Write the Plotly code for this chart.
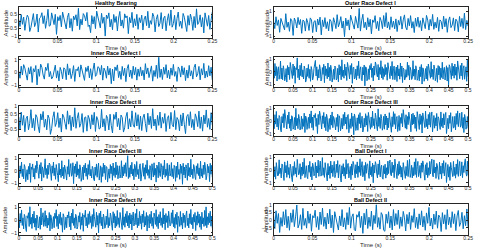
import numpy as np
import plotly.graph_objects as go

# ---------------- data: amplitude samples, written in units of 0.01 ----------------
healthy_bearing = [
 12,-35,48,-20,31,-62,5,44,28,-70,-41,18,55,-36,-10,52,-74,22,30,61,
 -15,40,-48,8,85,-33,-27,60,14,-22,50,-90,33,5,42,-37,66,26,-10,-52,
 29,58,-44,20,-68,38,12,47,-31,92,-57,16,-24,55,40,3,63,-35,-25,-78,
 41,-18,34,-50,72,27,-9,-45,57,-13,30,-102,45,21,60,-38,15,-58,49,-7,
 35,-66,24,70,-32,11,-47,53,25,39,-85,28,-10,64,-42,19,-30,50,-55,26,
 -8,44,-60,17,38,-29,71,-46,6,-20,58,33,-73,14,47,-36,-12,62,-51,23,
 37,-65,9,54,-28,80,-40,-15,43,-57,21,66,-34,2,-48,56,30,-19,-70,41,
 -26,52,15,-62,35,-44,88,-21,-5,46,-38,27,-80,60,18,-33,42,-55,11,67]

inner_race_1 = [
 10,-45,50,-20,62,35,-15,-60,38,-12,47,-78,30,5,55,-98,28,-30,66,40,
 -20,-52,42,16,72,-33,8,-50,-35,22,58,-44,14,-66,40,10,-50,37,25,-57,
 68,-20,32,-48,-10,54,-70,26,14,45,-36,60,25,-18,-62,40,8,52,-42,30,
 -55,22,75,-30,-16,46,38,-18,56,-60,35,12,-45,50,-20,33,-88,27,-66,44,
 15,60,-40,10,-54,48,-24,34,-72,30,62,-35,20,-47,50,-20,40,-60,28,-30,
 44,-26,18,-58,70,-12,36,-40,24,52,-68,16,-32,58,-46,120,-38,27,-55,42,
 -14,62,-42,18,-50,36,-22,64,-30,8,-70,44,26,-36,52,-18,38,-64,20,-44,
 56,-28,14,-52,40,66,-34,-10,48,-58,30,-20,72,-44,12,-36,54,-26,42,-60]

inner_race_2 = [
 30,-50,62,-25,40,-68,18,35,-55,-12,78,-42,20,-60,45,28,-35,-75,50,10,
 66,-38,15,-55,42,20,-85,-47,26,64,-33,-8,58,-40,22,-70,48,30,-12,-52,
 70,-18,40,-60,30,-35,90,-45,20,58,-38,-15,52,-72,25,30,-64,40,16,-50,
 44,-22,60,-66,32,10,-50,-44,80,-36,18,-62,40,20,-56,48,-28,-76,46,14,
 62,-34,20,-56,42,26,-70,-42,30,60,-50,18,-36,70,-24,-38,58,-30,45,-52,
 36,-60,24,48,-14,-70,55,-22,34,-46,84,-30,16,-58,40,-26,62,-44,28,-12,
 52,-66,18,38,-48,60,-20,-36,72,-54,26,10,-62,44,-30,56,-18,-80,34,46,
 -28,64,-40,14,-56,50,22,-34,68,-46,30,-64,42,-16,76,-38,20,-52,58,-24]

inner_race_3 = [
 25,-55,40,-20,70,-45,15,-62,50,30,-85,-40,10,-70,35,-25,60,-90,30,12,
 55,-48,20,-65,42,-15,78,36,-26,-58,48,-22,66,-80,32,10,-52,44,95,-30,
 18,-60,45,-28,62,50,-12,-75,40,-18,70,-38,24,-66,50,20,-36,-85,60,-32,
 14,-52,80,-40,28,-62,46,16,-58,-72,34,-26,90,-45,20,58,-42,-30,64,-100,
 38,-20,55,-48,74,-34,16,-60,48,24,-82,-50,30,-70,45,-15,60,-42,22,-66,
 50,-28,82,-40,12,-56,36,20,-66,-78,30,-35,55,-50,20,62,-72,25,40,-90,
 28,-44,60,-18,46,-68,34,30,-88,-50,16,-58,50,-22,38,-74,62,-36,24,-52,
 70,-30,42,-62,18,40,-56,-26,80,-55,32,-40,48,-20,64,-44,30,120,-60,25,
 -50,44,-24,68,-38,16,-70,52,30,-46,74,-28,12,-62,40,56,-80,-34,22,60,
 -42,26,-66,48,-18,84,-36,10,-58,42,30,-72,56,-26,-48,64,-34,20,-88,46,
 32,-54,70,-20,-44,58,28,-64,40,-30,86,-50,14,-36,60,-76,22,48,-40,-24,
 66,-46,18,-60,44,26,-82,38,-52,70,-28,12,-66,54,-20,40,-105,60,-32,30,
 -56,48,20,-74,62,-38,26,-48,92,-30,14,-60,50,34,-44,-68,40,-22,58,-36,
 24,-62,76,-42,18,-54,46,-28,68,30,-70,-40,52,-16,36,-84,60,-26,44,-50]

inner_race_4 = [
 30,-60,52,-20,80,-42,18,-70,45,28,-65,-90,34,15,58,-50,105,-32,22,-66,
 48,-24,70,-55,14,-80,40,30,-62,-46,26,-72,95,-38,20,58,-50,-18,74,-48,
 36,-62,16,-40,60,-85,42,22,-68,-35,28,-60,54,14,82,-50,30,-70,46,-26,
 62,-40,20,-95,50,30,-75,-45,24,-60,40,18,66,-52,32,-78,55,-24,86,-42,
 18,-64,46,30,-70,-50,34,-16,60,-72,26,-40,52,-88,40,22,78,-46,20,-60,
 50,-34,68,-20,30,-66,44,-50,90,28,-16,-56,62,-40,36,-100,54,-26,72,-44,
 24,-70,48,18,-64,-52,32,-36,84,-60,20,-44,56,30,-40,-80,66,-22,50,-62,
 30,-48,76,-34,18,-58,60,26,-42,-74,98,-40,26,-56,50,-20,70,-46,36,-62,
 56,-30,42,-78,22,64,-46,-18,52,-36,88,-60,16,-44,68,-28,34,-72,48,-20,
 74,-54,28,-40,60,-86,36,14,-62,46,-26,70,-48,20,-66,56,30,-34,82,-50,
 26,-68,44,-22,66,-42,18,-58,92,-30,40,-76,52,-18,34,-60,70,24,-46,-38,
 58,-26,80,-52,20,-64,46,-34,62,-96,30,12,-50,68,-40,24,-70,54,-20,40,
 -58,36,72,-44,16,-62,50,-28,84,-36,22,-68,44,-16,60,-82,34,-40,66,-24,
 48,-56,28,-74,62,-30,18,-50,76,-42,104,-60,26,-36,54,-20,70,-48,32,-64]

outer_race_1 = [
 20,-40,55,-15,30,-70,42,10,-25,-50,80,-30,12,-62,40,22,-95,45,18,-35,
 50,-8,33,-78,28,20,-60,40,7,-55,46,30,-72,16,24,-66,37,-12,52,-90,
 30,-25,48,-40,15,-58,34,20,-62,47,10,-40,72,-26,5,56,-36,20,-105,44,
 -18,30,-52,68,28,-9,-44,58,14,-36,122,-60,22,75,-33,12,-50,47,-26,35,
 -82,30,10,64,-40,18,-57,50,22,-40,65,-25,88,-35,14,-48,55,-30,20,-42,
 38,-64,26,-12,58,-44,30,70,-28,-50,42,-18,64,-36,16,-72,44,-22,52,-30,
 24,-58,46,-14,-40,66,28,-52,34,-20,74,-46,12,-34,50,-62,30,18,-44,60,
 -26,40,-70,22,54,-32,-12,46,-56,36,20,-66,58,-24,42,-38,84,-48,26,-20]

outer_race_2 = [
 20,-50,66,-30,42,-72,14,40,-58,-20,85,-55,30,-62,48,16,-70,-45,26,-80,
 50,-24,38,-60,74,35,-12,-52,62,-28,44,-90,32,18,110,-46,22,-64,52,-30,
 68,-40,16,-56,46,22,-80,-62,30,-36,58,-50,20,-74,42,14,-64,-42,28,60,
 90,-32,40,-66,18,-48,56,26,-72,-58,34,-20,60,-85,46,-30,24,-54,70,-40,
 36,-70,52,16,-80,-44,20,-60,46,34,-64,-50,28,-78,56,-24,42,-62,95,-36,
 14,-50,60,-28,38,-68,74,42,-26,-56,50,-20,66,-90,32,38,-56,-46,22,-64,
 48,-30,84,-52,18,40,-62,-70,36,-24,54,-110,40,34,-70,-50,24,-60,50,18,
 66,-44,30,-72,46,-26,78,56,-20,-40,58,-64,34,-20,88,-48,40,-60,26,-36,
 58,-22,34,-66,72,40,-16,-54,44,-30,82,-60,28,46,-62,-18,38,-76,54,-32,
 24,-58,70,-36,46,-84,30,20,-64,-50,18,-42,76,-28,52,-64,36,14,-60,-48,
 88,-34,22,-62,48,26,-66,-52,14,-70,40,-38,58,-96,32,22,-74,-44,26,-56,
 44,-68,62,18,-36,-50,80,-40,20,-60,54,30,-70,-46,28,-82,50,-24,42,-62,
 30,-44,76,-56,18,36,-64,-24,48,-72,34,-102,56,40,-22,-58,68,-30,44,-50,
 62,-26,38,-66,86,42,-20,-54,50,-32,70,-60,26,48,-58,-20,40,-74,92,-38]

outer_race_3 = [
 34,-60,50,-24,76,-46,20,-68,44,30,-62,-85,36,-14,58,-52,90,34,-26,-62,
 46,-20,72,-56,16,-78,42,32,-64,-48,28,-70,100,-36,22,-60,52,20,-70,-46,
 38,-64,18,-42,62,-90,40,24,-66,-34,30,-58,56,-16,80,-52,32,-72,48,28,
 60,-42,22,-98,52,-28,78,46,-26,-62,42,-20,68,-50,34,-76,54,26,-84,-40,
 20,-66,48,-32,72,-52,36,18,-62,-70,28,-42,54,-86,42,24,-76,-48,22,-62,
 52,-36,70,-22,32,-64,46,52,-92,-30,18,-58,64,-42,38,-108,56,28,-74,-46,
 26,-72,50,-20,66,-54,34,38,-86,-62,22,-46,58,-32,42,-82,68,24,-52,-64,
 32,-50,78,-36,20,-60,62,28,-44,-76,96,-42,28,-58,52,22,-72,-48,38,-64,
 56,-30,40,-70,24,-52,66,20,-48,-88,34,-44,74,-26,58,-62,18,36,-82,-50,
 44,-74,28,-18,60,-46,90,34,-22,-56,50,-64,36,-28,70,40,-16,-84,54,-30,
 62,-22,46,-58,32,-80,74,40,-20,-66,56,-26,42,-94,64,34,-28,-52,78,-44,
 18,-62,52,-30,68,-48,36,72,-86,-24,44,-56,26,-38,60,-76,34,20,-50,-66,
 72,-42,24,-54,58,-30,40,68,-98,-46,22,-60,46,-18,66,-84,30,36,-54,-50,
 38,-70,60,-26,80,-44,18,62,-48,-32,70,-56,28,-90,52,22,-64,-40,36,-58]

ball_defect_1 = [
 40,-52,28,-70,60,18,-45,-38,82,-26,16,-60,50,44,-30,-80,66,-20,38,-56,
 74,-34,22,-62,48,14,-58,-90,32,-40,68,-28,20,-54,86,46,-36,-22,52,-70,
 26,-42,64,-30,94,-58,18,36,-50,-66,40,-16,70,-50,28,-76,56,32,-44,-24,
 62,-60,34,-20,80,-48,24,72,-46,-30,100,-40,20,-56,60,26,-38,-84,54,-36,
 30,-64,72,-22,42,-50,16,70,-58,-34,48,-18,76,-60,26,44,-64,-92,36,-28,
 52,-46,22,-66,84,-30,40,54,-60,-20,30,-74,50,-38,70,48,-18,-60,44,-26,
 66,-56,34,-16,90,-42,24,68,-52,-30,38,-82,62,-24,46,50,-20,-64,74,-36,
 28,-50,56,-98,42,-22,68,46,-30,-60,50,-34,80,-52,22,40,-60,-70,36,-28,
 48,-62,20,-38,72,-26,54,80,-34,-44,64,-18,40,-58,88,32,-26,-66,50,-40,
 70,-30,36,-54,24,-76,60,20,-46,-64,30,-42,78,-50,18,86,-56,-28,40,-60,
 22,-44,66,-34,92,-56,28,70,-50,-24,38,-62,58,-16,74,46,-32,-78,44,-36,
 60,-58,20,-40,70,-28,48,88,-36,-52,82,-22,26,-64,54,34,-42,-72,64,-30,
 34,-66,56,-24,76,-44,18,60,-96,-36,46,-54,28,-80,62,20,-40,-50,70,-42,
 24,-62,50,-32,84,-48,30,70,-44,-26,66,-58,36,-18,58,90,-22,-46,72,-38]

ball_defect_2 = [
 30,-55,62,-20,44,-80,18,-40,56,-30,70,-50,26,-66,48,-14,70,-42,22,100,
 -50,-26,36,-60,78,-34,12,-52,60,-20,42,-72,30,16,66,-46,24,-62,54,-28,
 80,-40,20,-58,46,-24,72,-50,34,-80,56,18,-40,-64,28,-36,70,-44,16,-60,
 50,-30,84,-52,22,42,-62,-70,36,20,58,-48,26,-86,46,-30,74,-54,20,-40,
 60,-62,32,-22,102,-46,18,-58,50,34,-66,-72,40,-20,56,-50,28,-64,70,-36,
 44,-28,66,-54,22,-40,58,16,-70,38,-24,52,-60,30,-14,76,-48,20,-56,42,
 -32,62,-44,26,-66,48,-20,84,-38,14,-58,40,-28,60,-52,34,18,-74,50,-24,
 36,-60,70,-30,20,-48,56,-22,42,-68,28,64,-40,-16,52,-56,30,-36,74,-44]

AMPLITUDE_UNIT = 0.01   # the lists above are in hundredths of the amplitude unit

# panel titles, signal durations (s), axis ticks -- left column then right column
titles = ["Healthy Bearing", "Inner Race Defect I", "Inner Race Defect II", "Inner Race Defect III", "Inner Race Defect IV",
          "Outer Race Defect I", "Outer Race Defect II", "Outer Race Defect III", "Ball Defect I", "Ball Defect II"]
signals = [healthy_bearing, inner_race_1, inner_race_2, inner_race_3, inner_race_4,
           outer_race_1, outer_race_2, outer_race_3, ball_defect_1, ball_defect_2]
durations = [0.25, 0.25, 0.25, 0.5, 0.5, 0.25, 0.5, 0.5, 0.5, 0.25]
x_ticks_short = [0, 0.05, 0.1, 0.15, 0.2, 0.25]
x_ticks_long = [0, 0.05, 0.1, 0.15, 0.2, 0.25, 0.3, 0.35, 0.4, 0.45, 0.5]
y_ranges = [[-1.15, 0.98], [-1.15, 1.25], [-0.98, 1.03], [-1.15, 1.25], [-1.15, 1.25],
            [-1.15, 1.3], [-1.2, 1.2], [-1.2, 1.2], [-1.2, 1.2], [-0.95, 1.05]]
y_ticks = [[-1, -0.5, 0, 0.5], [-1, 0, 1], [-0.5, 0, 0.5, 1], [-1, 0, 1], [-1, 0, 1],
           [-1, 0, 1], [-1, 0, 1], [-1, 0, 1], [-1, 0, 1], [-0.5, 0, 0.5, 1]]

W, H = 480, 250
FONT = "Liberation Sans, Arial, Helvetica, sans-serif"
AX_COLOR = "#262626"
LINE_COLOR = "#0072BD"

col_x = [(18, 214), (276, 473)]          # pixel extents of plot boxes
ylabel_x = [5, 269]
row_top = [4.5, 54.5, 104.5, 154.5, 204.5]
box_h = 31

fig = go.Figure()
annotations = []
layout = dict(width=W, height=H, margin=dict(l=0, r=0, t=0, b=0, pad=0),
              paper_bgcolor="white", plot_bgcolor="white", showlegend=False,
              font=dict(family=FONT, color=AX_COLOR, size=5))

for i, (title, sig, dur) in enumerate(zip(titles, signals, durations)):
    col, row = divmod(i, 5)
    k = i + 1
    xa = "x" if k == 1 else f"x{k}"
    ya = "y" if k == 1 else f"y{k}"
    amp = np.asarray(sig, dtype=float) * AMPLITUDE_UNIT
    t = np.linspace(0, dur, len(sig))
    fig.add_trace(go.Scatter(x=t, y=amp, mode="lines", xaxis=xa, yaxis=ya,
                             line=dict(color=LINE_COLOR, width=1.0), hoverinfo="skip"))
    x0, x1 = col_x[col]
    top = row_top[row]
    bot = top + box_h
    xdom = [x0 / W, x1 / W]
    ydom = [1 - bot / H, 1 - top / H]
    common = dict(showline=True, linecolor=AX_COLOR, linewidth=0.6, mirror="ticks",
                  ticks="inside", ticklen=2, tickwidth=0.5, tickcolor=AX_COLOR,
                  showgrid=False, zeroline=False, tickfont=dict(size=5, color=AX_COLOR, family=FONT))
    layout["xaxis" if k == 1 else f"xaxis{k}"] = dict(
        domain=xdom, range=[0, dur], tickvals=x_ticks_short if dur < 0.3 else x_ticks_long,
        anchor=ya, ticklabelstandoff=-2, **common)
    layout["yaxis" if k == 1 else f"yaxis{k}"] = dict(
        domain=ydom, range=y_ranges[i], tickvals=y_ticks[i], anchor=xa,
        ticklabelstandoff=0, **common)
    # panel title
    annotations.append(dict(text=f"<b>{title}</b>", x=(xdom[0] + xdom[1]) / 2, y=ydom[1],
                            xref="paper", yref="paper", xanchor="center", yanchor="bottom",
                            showarrow=False, yshift=-1,
                            font=dict(size=5.5, family=FONT, color="#000000")))
    # x axis label
    annotations.append(dict(text="Time (s)", x=(xdom[0] + xdom[1]) / 2, y=1 - (bot + 10) / H,
                            xref="paper", yref="paper", xanchor="center", yanchor="middle",
                            showarrow=False, font=dict(size=6, family=FONT, color=AX_COLOR)))
    # y axis label
    annotations.append(dict(text="Amplitude", x=ylabel_x[col] / W, y=1 - (top + box_h / 2) / H,
                            xref="paper", yref="paper", xanchor="center", yanchor="middle",
                            textangle=-90, showarrow=False,
                            font=dict(size=6, family=FONT, color=AX_COLOR)))

layout["annotations"] = annotations
fig.update_layout(**layout)
fig.write_html("out.html", config={"displayModeBar": False},
               post_script="document.body.style.margin='0';")
